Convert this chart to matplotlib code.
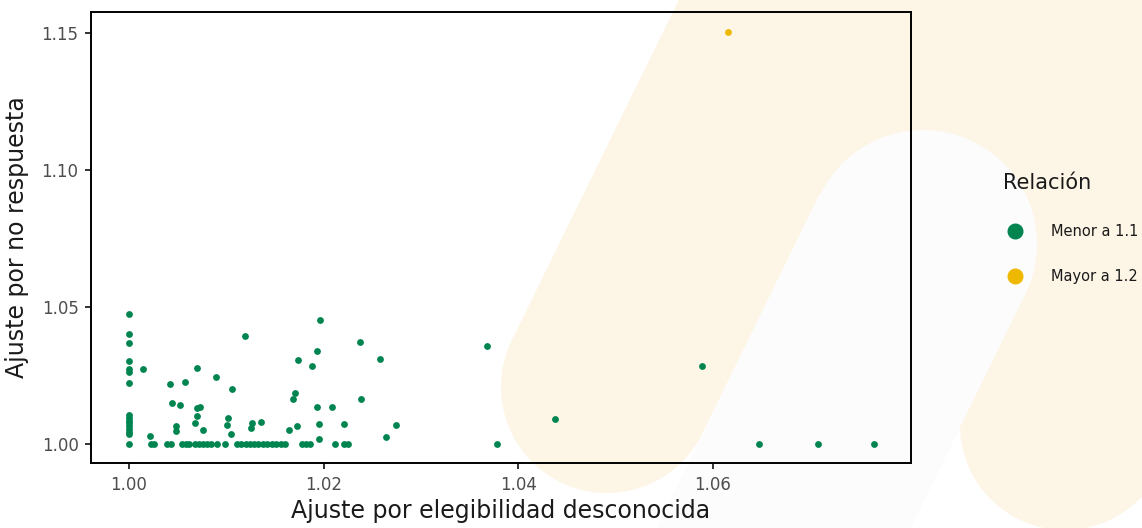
#scatter de ajustes (elegibilidad vs no respuesta)
import numpy as np
import matplotlib.pyplot as plt
from matplotlib.patches import Polygon
from matplotlib.lines import Line2D

plt.rcParams['font.family'] = ['DejaVu Sans']

# Puntos "Menor a 1.1"
x_menor = [1.0, 1.0, 1.0, 1.0, 1.0, 1.0, 1.0, 1.0, 1.0, 1.0, 1.0, 1.0, 1.0, 1.0, 1.0, 1.0,
           1.00147, 1.00219, 1.00425, 1.00572, 1.00439, 1.00528, 1.0048, 1.0048,
           1.00703, 1.00895, 1.01056, 1.0119, 1.00696, 1.0073, 1.00696, 1.00679,
           1.00761, 1.01015, 1.01004, 1.01046, 1.01262, 1.01255, 1.0136, 1.0164,
           1.01967, 1.02372, 1.0193, 1.01741, 1.01878, 1.02584, 1.01707, 1.0169,
           1.01937, 1.02087, 1.02389, 1.0173, 1.01957, 1.02211, 1.02745, 1.01957,
           1.02647, 1.03681, 1.03787, 1.04384, 1.05892, 1.06475, 1.07088, 1.0766,
           1.00223, 1.00257, 1.00388, 1.00429, 1.00542, 1.00583, 1.0062, 1.00679,
           1.0072, 1.00764, 1.00805, 1.00846, 1.00901, 1.00987, 1.0111, 1.0115,
           1.0120, 1.0124, 1.0129, 1.0133, 1.0138, 1.0142, 1.0147, 1.0151,
           1.0156, 1.0160, 1.01776, 1.0182, 1.0186, 1.02118, 1.02211, 1.02255]
y_menor = [1.0473, 1.0403, 1.0367, 1.0303, 1.0274, 1.0264, 1.0224, 1.0106, 1.0095, 1.0085,
           1.0075, 1.0065, 1.0055, 1.0045, 1.0035, 1.0,
           1.0274, 1.0029, 1.0219, 1.0225, 1.0150, 1.0141, 1.0066, 1.0047,
           1.0277, 1.0246, 1.0200, 1.0393, 1.0130, 1.0136, 1.0103, 1.0075,
           1.0051, 1.0095, 1.0070, 1.0036, 1.0075, 1.0060, 1.0079, 1.0051,
           1.0454, 1.0373, 1.0341, 1.0307, 1.0286, 1.0309, 1.0185, 1.0164,
           1.0134, 1.0135, 1.0163, 1.0066, 1.0074, 1.0074, 1.0071, 1.0019,
           1.0026, 1.0358, 1.0, 1.0090, 1.0284, 1.0, 1.0, 1.0,
           1.0, 1.0, 1.0, 1.0, 1.0, 1.0, 1.0, 1.0,
           1.0, 1.0, 1.0, 1.0, 1.0, 1.0, 1.0, 1.0,
           1.0, 1.0, 1.0, 1.0, 1.0, 1.0, 1.0, 1.0,
           1.0, 1.0, 1.0, 1.0, 1.0, 1.0, 1.0, 1.0]

# Punto "Mayor a 1.2"
x_mayor = [1.0616]
y_mayor = [1.1504]

x_ticks = [1.00, 1.02, 1.04, 1.06]
y_ticks = [1.00, 1.05, 1.10, 1.15]

verde = '#008550'
amarillo = '#EFB800'
crema = '#FDF5E5'


def stadium(p0, p1, r, n=60):
    # polygon of a thick line with round ends (pixel coords)
    p0 = np.array(p0, float)
    p1 = np.array(p1, float)
    d = p1 - p0
    a = np.arctan2(d[1], d[0])
    t1 = np.linspace(a - np.pi / 2, a + np.pi / 2, n)
    t0 = np.linspace(a + np.pi / 2, a + 3 * np.pi / 2, n)
    pts1 = np.c_[p1[0] + r * np.cos(t1), p1[1] + r * np.sin(t1)]
    pts0 = np.c_[p0[0] + r * np.cos(t0), p0[1] + r * np.sin(t0)]
    return np.vstack([pts1, pts0])


fig = plt.figure(figsize=(11.42, 5.28), dpi=100)

# background decoration
bg = fig.add_axes([0, 0, 1, 1], zorder=0)
bg.set_xlim(0, 1142)
bg.set_ylim(528, 0)
bg.axis('off')

direc = np.array([0.44, -0.897])
pA = np.array([607, 387])
pC = np.array([1065, 425])
pW = np.array([923, 244])
bg.add_patch(Polygon(stadium(pA, pA + 900 * direc, 106), color=crema, lw=0))
bg.add_patch(Polygon(stadium(pC, pC + 900 * direc, 105), color=crema, lw=0))
tA = np.dot(pW - pA, direc)
tC = np.dot(pW - pC, direc)
bg.add_patch(Polygon([pA + tA * direc, pA + 900 * direc, pC + 900 * direc, pC + tC * direc],
                     color=crema, lw=0))
bg.add_patch(Polygon(stadium(pW, pW - 900 * direc, 114), color='#FCFCFC', lw=0))

# main panel
ax = fig.add_axes([91 / 1142, 65 / 528, 820 / 1142, 451 / 528], zorder=1)
ax.set_facecolor('none')

ax.scatter(x_menor, y_menor, s=24, color=verde, linewidths=0, zorder=3)
ax.scatter(x_mayor, y_mayor, s=24, color=amarillo, linewidths=0, zorder=3)

ax.set_xlim(0.99609, 1.0804)
ax.set_ylim(0.99307, 1.1577)
ax.set_xticks(x_ticks)
ax.set_xticklabels([f'{v:.2f}' for v in x_ticks])
ax.set_yticks(y_ticks)
ax.set_yticklabels([f'{v:.2f}' for v in y_ticks])

for s in ax.spines.values():
    s.set_linewidth(1.4)
    s.set_color('black')
ax.tick_params(axis='both', length=4.5, width=1.4, color='#333333',
               labelcolor='#4D4D4D', labelsize=12, pad=4.5)

ax.set_xlabel('Ajuste por elegibilidad desconocida', fontsize=17, color='#1A1A1A', labelpad=4)
ax.set_ylabel('Ajuste por no respuesta', fontsize=17, color='#1A1A1A', labelpad=9)

handles = [Line2D([], [], marker='o', ls='', markersize=10.5, color=verde),
           Line2D([], [], marker='o', ls='', markersize=10.5, color=amarillo)]
leg = ax.legend(handles, ['Menor a 1.1', 'Mayor a 1.2'], title='Relación',
                loc='upper left', bbox_to_anchor=(1003 / 1142, 1 - 173 / 528),
                bbox_transform=fig.transFigure, frameon=False, fontsize=10.5,
                title_fontsize=15, labelspacing=2.1, handlelength=1.6,
                handletextpad=1.7, borderpad=0, borderaxespad=0,
                alignment='left')
leg.get_title().set_color('#1A1A1A')
for t in leg.get_texts():
    t.set_color('#1A1A1A')

fig.savefig('out.png', dpi=100)
